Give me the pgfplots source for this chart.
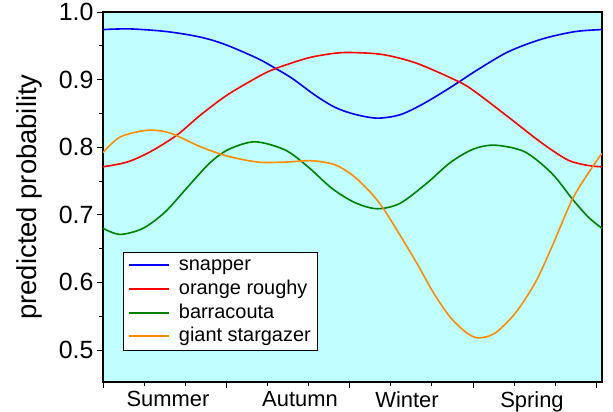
\documentclass[border=0pt]{standalone}
\usepackage{fontspec}
\setmainfont{Liberation Sans}
\usepackage{pgfplots}
\pgfplotsset{compat=1.18}
\definecolor{bgcyan}{RGB}{192,255,255}
\definecolor{cblue}{RGB}{0,0,255}
\definecolor{cred}{RGB}{255,0,0}
\definecolor{cgreen}{RGB}{0,128,0}
\definecolor{corange}{RGB}{255,140,0}
\begin{document}
\begin{tikzpicture}
\begin{axis}[
  scale only axis, width=499bp, height=370bp,
  xmin=0, xmax=499, ymin=0.4527, ymax=1.0,
  axis background/.style={fill=bgcyan},
  axis line style={line width=1.3bp},
  /pgf/number format/assume math mode=true,
  ytick={0.5,0.6,0.7,0.8,0.9,1.0},
  minor ytick={0.55,0.65,0.75,0.85,0.95},
  yticklabel style={/pgf/number format/fixed, /pgf/number format/fixed zerofill, /pgf/number format/precision=1, font=\fontsize{25}{25}\selectfont},
  tick align=outside, tick pos=left,
  major tick length=6bp, minor tick length=3.5bp,
  tick style={black, line width=0.8bp},
  xtick={0,123.3,246.7,370,493.3},
  xticklabels={,,,,},
  minor xtick={41.1,82.2,164.4,205.5,287.7,328.8,411,452.1},
  extra x ticks={65,197,304,429},
  extra x tick labels={Summer,Autumn,Winter,Spring},
  extra x tick style={major tick length=0pt},
  xticklabel style={font=\fontsize{22}{22}\selectfont, yshift=-6bp},
  ylabel={predicted probability},
  ylabel style={font=\fontsize{27.5}{27.5}\selectfont, at={(axis description cs:-0.148,0.5)}, anchor=center},
  legend style={at={(axis description cs:0.04,0.084)}, anchor=south west, draw=black, line width=0.8bp, fill=white,
    font=\fontsize{20}{20}\selectfont, row sep=0pt, inner xsep=4.5bp, inner ysep=2bp,
    nodes={text height=14.5bp, text depth=4.5bp, inner sep=2.3bp}},
  legend cell align=left,
  legend image code/.code={\draw[#1, line width=2bp, line cap=butt] (0bp,0.6bp) -- (40bp,0.6bp); \path (47bp,0bp);},
  every axis plot/.append style={line width=1.6bp, smooth, no markers},
]
\addplot[cblue] coordinates {(0,0.974) (27,0.975) (64,0.971) (97,0.963) (122,0.952) (155,0.931) (172,0.917) (189,0.902) (212,0.877) (232,0.859) (251,0.849) (274,0.843) (297,0.848) (320,0.864) (347,0.888) (374,0.914) (405,0.941) (439,0.960) (472,0.971) (499,0.974)};
\addlegendentry{snapper}
\addplot[cred] coordinates {(0,0.771) (24,0.778) (47,0.793) (74,0.818) (97,0.847) (124,0.877) (155,0.904) (172,0.916) (205,0.932) (232,0.939) (250,0.940) (280,0.937) (314,0.924) (357,0.896) (374,0.880) (405,0.845) (439,0.806) (465,0.781) (485,0.773) (499,0.771)};
\addlegendentry{orange roughy}
\addplot[cgreen] coordinates {(0,0.680) (17,0.671) (40,0.680) (62,0.704) (84,0.740) (107,0.777) (126,0.797) (152,0.808) (182,0.796) (205,0.771) (229,0.739) (252,0.718) (274,0.709) (297,0.717) (324,0.747) (347,0.777) (370,0.797) (392,0.803) (422,0.793) (449,0.761) (469,0.724) (485,0.697) (499,0.680)};
\addlegendentry{barracouta}
\addplot[corange] coordinates {(0,0.792) (17,0.815) (44,0.825) (67,0.821) (97,0.801) (124,0.787) (155,0.778) (182,0.778) (209,0.780) (232,0.774) (250,0.758) (267,0.734) (280,0.710) (297,0.670) (314,0.628) (330,0.586) (347,0.549) (364,0.525) (376,0.518) (392,0.525) (412,0.554) (432,0.599) (449,0.653) (469,0.722) (485,0.761) (499,0.791)};
\addlegendentry{giant stargazer}
\end{axis}
\pgfresetboundingbox
\path[use as bounding box] ([shift={(-103bp,-30bp)}]current axis.south west) rectangle ++(613bp,412bp);
\end{tikzpicture}
\end{document}
